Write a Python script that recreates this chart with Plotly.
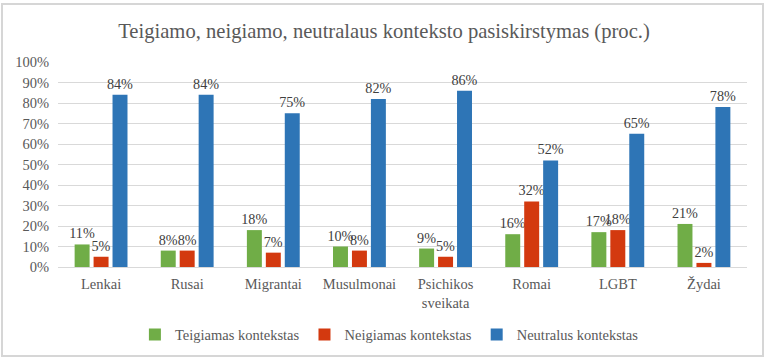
import plotly.graph_objects as go

categories = ["Lenkai", "Rusai", "Migrantai", "Musulmonai", "Psichikos<br>sveikata", "Romai", "LGBT", "Žydai"]
teigiamas = [11, 8, 18, 10, 9, 16, 17, 21]
neigiamas = [5, 8, 7, 8, 5, 32, 18, 2]
neutralus = [84, 84, 75, 82, 86, 52, 65, 78]
series_names = ["Teigiamas kontekstas", "Neigiamas kontekstas", "Neutralus kontekstas"]
colors = ["#70AD47", "#D3390F", "#2E75B6"]

FONT = "Liberation Serif, serif"
FS = 14.5

fig = go.Figure()
for name, vals, col in zip(series_names, [teigiamas, neigiamas, neutralus], colors):
    fig.add_trace(go.Bar(
        x=categories, y=[v / 100 for v in vals], name=name,
        marker=dict(color=col, line=dict(width=0)),
        text=[f"{v}%" for v in vals], textposition="outside",
        textfont=dict(family=FONT, size=14.2, color="#404040"),
        constraintext="none", cliponaxis=False,
    ))

fig.update_layout(
    width=768, height=361,
    margin=dict(l=58, r=21, t=62, b=94, autoexpand=False),
    paper_bgcolor="white", plot_bgcolor="white",
    barmode="group", bargap=0.34, bargroupgap=0.21,
    title=dict(text="Teigiamo, neigiamo, neutralaus konteksto pasiskirstymas (proc.)",
               x=0.5, xanchor="center", y=0.915, yanchor="middle",
               font=dict(family=FONT, size=20.6, color="#595959")),
    font=dict(family=FONT, color="#595959", size=FS),
    legend=dict(orientation="h", x=0.481, xanchor="center", y=-0.33, yanchor="middle",
                font=dict(family=FONT, size=FS, color="#595959"),
                itemwidth=30, traceorder="normal"),
    showlegend=True,
)
fig.update_yaxes(range=[0, 1], dtick=0.1, tickformat=".0%", showgrid=True,
                 gridcolor="#D9D9D9", gridwidth=1, zeroline=False, showline=False,
                 tickfont=dict(family=FONT, size=FS, color="#595959"), ticklen=0,
                 ticks="", ticklabelstandoff=8, automargin=False)
fig.update_xaxes(showline=True, linecolor="#D9D9D9", linewidth=1, ticks="",
                 tickfont=dict(family=FONT, size=FS, color="#595959"),
                 ticklabelstandoff=4, automargin=False)

fig.add_shape(type="rect", xref="paper", yref="paper",
              x0=(2 - 58) / 689, x1=(763 - 58) / 689,
              y0=(267 - 356) / 205, y1=(267 - 4) / 205,
              line=dict(color="#D6D6D6", width=2), fillcolor="rgba(0,0,0,0)", layer="below")

fig.write_html("out.html", config={"displayModeBar": False},
               post_script="document.body.style.margin='0';")
